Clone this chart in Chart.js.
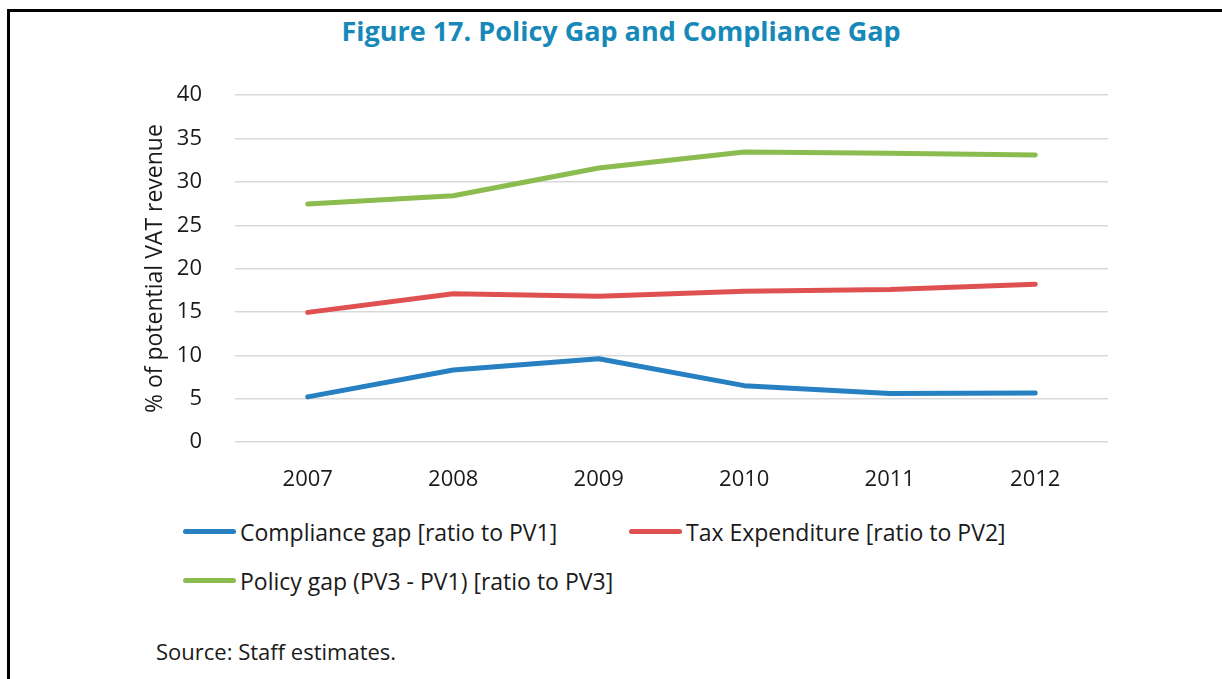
<!DOCTYPE html>
<html>
<head>
<meta charset="utf-8">
<script src="https://cdn.jsdelivr.net/npm/chart.js@4"></script>
<style>
  html, body { margin: 0; padding: 0; background: #fff; }
  body { width: 1222px; height: 679px; position: relative; overflow: hidden; font-family: "Open Sans", sans-serif; color: #1a1a1a; }
  .frame { position: absolute; left: 7px; top: 9px; right: -10px; bottom: -10px; border-left: 3px solid #000; border-top: 3px solid #000; }
  .title { position: absolute; left: 0; width: 1242px; top: 12px; text-align: center; font-size: 27px; line-height: 38px; font-weight: 700; color: #1689b9; }
  .chart-box { position: absolute; left: 130px; top: 49px; width: 990px; height: 451px; }
  .legend { position: absolute; font-size: 23px; height: 30px; }
  .legend span.sw { position: absolute; left: 0; top: 50%; height: 5px; margin-top: -3px; width: 53px; border-radius: 3px; }
  .legend span.tx { position: absolute; left: 57px; top: 0; white-space: nowrap; line-height: 30px; }
  .source { position: absolute; left: 156px; top: 636px; font-size: 22px; line-height: 30px; }
</style>
</head>
<body>
<div class="frame"></div>
<div class="title">Figure 17. Policy Gap and Compliance Gap</div>
<div class="chart-box"><canvas id="chart-gap"></canvas></div>
<div id="legend"></div>
<div class="source">Source: Staff estimates.</div>
<script>
const years = ['2007', '2008', '2009', '2010', '2011', '2012'];
const complianceGap = [5.2, 8.3, 9.6, 6.5, 5.6, 5.65];
const taxExpenditure = [14.95, 17.1, 16.8, 17.4, 17.6, 18.2];
const policyGap = [27.45, 28.4, 31.6, 33.45, 33.3, 33.1];
const seriesLabels = [
  'Compliance gap [ratio to PV1]',
  'Tax Expenditure [ratio to PV2]',
  'Policy gap (PV3 - PV1) [ratio to PV3]'
];
const yTicks = [0, 5, 10, 15, 20, 25, 30, 35, 40];

const colors = ['#2680c2', '#df5150', '#8bbc4f'];
const FONT = '"Open Sans", sans-serif';

function line(label, data, color) {
  return {
    label, data,
    borderColor: color,
    backgroundColor: color,
    borderWidth: 5,
    borderCapStyle: 'round',
    borderJoinStyle: 'round',
    pointRadius: 0,
    tension: 0,
    fill: false
  };
}

const ctx = document.getElementById('chart-gap');
const chart = new Chart(ctx, {
  type: 'line',
  data: {
    labels: years,
    datasets: [
      line(seriesLabels[0], complianceGap, colors[0]),
      line(seriesLabels[1], taxExpenditure, colors[1]),
      line(seriesLabels[2], policyGap, colors[2])
    ]
  },
  options: {
    responsive: true,
    maintainAspectRatio: false,
    animation: false,
    layout: { padding: { top: 23, right: 12, bottom: 8, left: 0 } },
    plugins: {
      legend: { display: false },
      tooltip: { enabled: false }
    },
    scales: {
      x: {
        offset: true,
        grid: { display: false, drawTicks: false, offset: true },
        border: { display: false },
        ticks: { color: '#1a1a1a', padding: 25, font: { family: FONT, size: 22 } },
        afterFit: (s) => { s.height = 50; }
      },
      y: {
        min: yTicks[0],
        max: yTicks[yTicks.length - 1],
        afterBuildTicks: (s) => { s.ticks = yTicks.map((v) => ({ value: v })); },
        grid: { color: '#d9d9d9', lineWidth: 1.5, drawTicks: false },
        border: { display: false },
        ticks: { color: '#1a1a1a', padding: 33, font: { family: FONT, size: 22 } },
        title: {
          display: true,
          text: '% of potential VAT revenue',
          color: '#1a1a1a',
          padding: { top: 12, bottom: 0 },
          font: { family: FONT, size: 23 }
        },
        afterFit: (s) => { s.width = 105; }
      }
    }
  }
});

// legend laid out like the original figure
const legendPos = [
  { left: 183, top: 517 },
  { left: 629, top: 517 },
  { left: 183, top: 566 }
];
const legendEl = document.getElementById('legend');
chart.data.datasets.forEach((ds, i) => {
  const item = document.createElement('div');
  item.className = 'legend';
  item.style.left = legendPos[i].left + 'px';
  item.style.top = legendPos[i].top + 'px';
  item.innerHTML = '<span class="sw" style="background:' + ds.borderColor + '"></span><span class="tx">' + ds.label + '</span>';
  legendEl.appendChild(item);
});
</script>
</body>
</html>
